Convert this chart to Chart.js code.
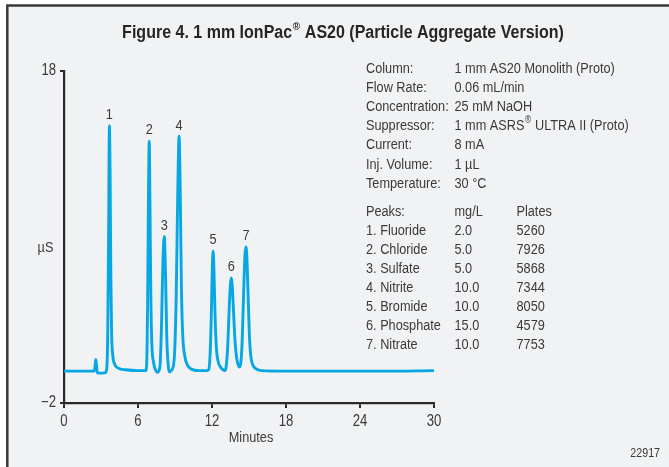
<!DOCTYPE html>
<html>
<head>
<meta charset="utf-8">
<script src="https://cdn.jsdelivr.net/npm/chart.js@4.4.1/dist/chart.umd.min.js"></script>
<style>
  html, body { margin: 0; padding: 0; background: #ffffff; }
  #wrap { width: 669px; height: 467px; position: relative; }
</style>
</head>
<body>
<div id="wrap"><canvas id="c" width="669" height="467"></canvas></div>
<script>
// ---- Data ----
const chartTitle = 'Figure 4. 1 mm IonPac® AS20 (Particle Aggregate Version)';
const xAxisTitle = 'Minutes';
const yAxisTitle = 'µS';
const figureNumber = '22917';

const xTicks = [0, 6, 12, 18, 24, 30];
const yTicks = [-2, 18];

// detector trace: time (min) and conductivity (µS)
const traceMinutes = [
  0.00, 1.00, 2.00, 2.45, 2.52, 2.58, 2.64, 2.70, 3.00, 3.35,
  3.47, 3.55, 3.62, 3.68, 3.74, 3.80, 3.86, 3.95, 4.10, 4.40,
  5.00, 6.00, 6.62, 6.70, 6.78, 6.85, 6.91, 6.97, 7.04, 7.12,
  7.25, 7.45, 7.59, 7.78, 7.90, 8.02, 8.13, 8.24, 8.33, 8.45,
  8.52, 8.75, 8.95, 9.10, 9.22, 9.33, 9.42, 9.52, 9.62, 9.80,
  10.00, 10.30, 11.00, 11.60, 11.73, 11.85, 11.95, 12.02, 12.09, 12.16,
  12.24, 12.35, 12.50, 12.70, 12.90, 13.03, 13.15, 13.28, 13.40, 13.50,
  13.57, 13.64, 13.74, 13.86, 14.00, 14.15, 14.24, 14.35, 14.45, 14.56,
  14.67, 14.76, 14.84, 14.93, 15.03, 15.15, 15.30, 15.60, 16.00, 18.00,
  22.00, 26.00, 30.00
];
const traceMicroS = [
  -0.08, -0.08, -0.08, -0.08, 0.25, 0.62, 0.25, -0.18, -0.20, -0.18,
  0.10, 2.50, 8.50, 14.70, 11.50, 5.50, 2.20, 0.90, 0.35, 0.10,
  0.00, -0.05, -0.05, 0.30, 4.00, 10.50, 13.77, 10.00, 4.50, 1.60,
  0.50, -0.05, -0.15, 0.20, 2.50, 6.50, 8.04, 5.50, 2.00, 0.30,
  -0.12, 0.00, 0.80, 4.50, 10.50, 14.07, 11.00, 5.00, 2.20, 0.80,
  0.30, 0.05, -0.05, -0.05, 0.00, 1.00, 3.50, 6.00, 7.16, 6.00,
  3.50, 1.40, 0.50, 0.15, 0.00, -0.05, 0.20, 1.50, 3.80, 5.20,
  5.53, 5.10, 3.60, 1.80, 0.70, 0.25, 0.17, 0.50, 1.80, 4.50,
  6.90, 7.40, 6.60, 4.40, 2.10, 0.80, 0.30, 0.05, -0.05, -0.08,
  -0.08, -0.08, -0.05
];

// peak labels on the trace
const peakNumbers = ['1', '2', '3', '4', '5', '6', '7'];
const peakMinutes = [3.68, 6.91, 8.13, 9.33, 12.09, 13.57, 14.76];
const peakMicroS = [14.70, 13.77, 8.04, 14.07, 7.16, 5.53, 7.40];

// conditions block
const conditionLabels = ['Column:', 'Flow Rate:', 'Concentration:', 'Suppressor:', 'Current:', 'Inj. Volume:', 'Temperature:'];
const conditionValues = ['1 mm AS20 Monolith (Proto)', '0.06 mL/min', '25 mM NaOH', '1 mm ASRS® ULTRA II (Proto)', '8 mA', '1 µL', '30 °C'];

// peaks table
const peakTableHeader = ['Peaks:', 'mg/L', 'Plates'];
const peakNames = ['1. Fluoride', '2. Chloride', '3. Sulfate', '4. Nitrite', '5. Bromide', '6. Phosphate', '7. Nitrate'];
const peakConcentrations = ['2.0', '5.0', '5.0', '10.0', '10.0', '15.0', '10.0'];
const peakPlates = ['5260', '7926', '5868', '7344', '8050', '4579', '7753'];

// ---- Styling ----
const FONT = "'Liberation Sans', Arial, sans-serif";
const SX = 0.82; // horizontal condensing to mimic the narrow face
const TEXT = '#3a3a3a';
const AXIS = '#2a2a2a';
const LINE = '#07a7e3';

Chart.defaults.font.family = FONT;
Chart.defaults.color = TEXT;

function fontStr(size, weight) { return weight + ' ' + size + 'px ' + FONT; }

// narrow text, returns drawn width
function narrow(ctx, str, x, y, size, weight, align, sx) {
  sx = sx || SX;
  ctx.font = fontStr(size, weight);
  const w = ctx.measureText(str).width * sx;
  let lx = x;
  if (align === 'center') lx = x - w / 2;
  else if (align === 'right') lx = x - w;
  ctx.save();
  ctx.translate(lx, y);
  ctx.scale(sx, 1);
  ctx.textAlign = 'left';
  ctx.fillText(str, 0, 0);
  ctx.restore();
  return w;
}

// draws a string where "®" is set as a superscript
function drawRich(ctx, str, x, y, size, weight, align, sx) {
  sx = sx || SX;
  const parts = str.split('®');
  const supSize = Math.round(size * 0.62);
  let total = 0;
  parts.forEach((p, i) => {
    ctx.font = fontStr(size, weight); total += ctx.measureText(p).width * sx;
    if (i < parts.length - 1) { ctx.font = fontStr(supSize, weight); total += ctx.measureText('®').width * sx + 1; }
  });
  let cx = align === 'center' ? x - total / 2 : x;
  parts.forEach((p, i) => {
    cx += narrow(ctx, p, cx, y, size, weight, 'left', sx);
    if (i < parts.length - 1) {
      cx += narrow(ctx, '®', cx + 0.5, y - size * 0.36, supSize, weight, 'left', sx) + 1;
    }
  });
}

const decorPlugin = {
  id: 'decor',
  beforeDraw(chart) {
    const ctx = chart.ctx;
    ctx.save();
    ctx.fillStyle = '#ffffff';
    ctx.fillRect(0, 0, chart.width, chart.height);
    ctx.fillStyle = '#f1f2f4';
    ctx.fillRect(7, 5.5, chart.width + 20, chart.height + 20);
    ctx.strokeStyle = '#3a3a3a';
    ctx.lineWidth = 2.5;
    ctx.beginPath();
    ctx.moveTo(7.3, chart.height + 10);
    ctx.lineTo(7.3, 5.5);
    ctx.lineTo(chart.width + 10, 5.5);
    ctx.stroke();
    ctx.restore();
  },
  afterDraw(chart) {
    const ctx = chart.ctx;
    const xs = chart.scales.x, ys = chart.scales.y;
    ctx.save();
    ctx.fillStyle = TEXT;
    ctx.textBaseline = 'middle';
    // tick labels, placed from the library's scales
    xs.ticks.forEach(t => {
      narrow(ctx, String(t.value), xs.getPixelForValue(t.value), xs.bottom - 64 + 18.5, 16, 'normal', 'center');
    });
    ys.ticks.forEach(t => {
      const lab = t.value < 0 ? '\u2212' + Math.abs(t.value) : String(t.value);
      narrow(ctx, lab, ys.right - 8, ys.getPixelForValue(t.value), 16, 'normal', 'right');
    });
    // axis titles
    narrow(ctx, xAxisTitle, (xs.left + xs.right) / 2 + 2, 437.5, 15.5, 'normal', 'center');
    narrow(ctx, yAxisTitle, 45.5, 248, 15.5, 'normal', 'center');
    // peak numbers
    peakNumbers.forEach((n, i) => {
      narrow(ctx, n, xs.getPixelForValue(peakMinutes[i]), ys.getPixelForValue(peakMicroS[i]) - 11, 15.5, 'normal', 'center');
    });
    // conditions
    conditionLabels.forEach((lab, i) => {
      const y = 69 + i * 19.05;
      drawRich(ctx, lab, 366, y, 15.5, 'normal', 'left');
      drawRich(ctx, conditionValues[i], 454.5, y, 15.5, 'normal', 'left');
    });
    // peak table
    const rows = [peakTableHeader].concat(peakNames.map((n, i) => [n, peakConcentrations[i], peakPlates[i]]));
    rows.forEach((r, i) => {
      const y = 211.7 + i * 19.0;
      narrow(ctx, r[0], 366, y, 15.5, 'normal', 'left');
      narrow(ctx, r[1], 454.5, y, 15.5, 'normal', 'left');
      narrow(ctx, r[2], 516.5, y, 15.5, 'normal', 'left');
    });
    // figure number
    narrow(ctx, figureNumber, 660, 453, 13, 'normal', 'right');
    // title
    ctx.fillStyle = '#262626';
    drawRich(ctx, chartTitle, 343, 33, 18, 'bold', 'center', 0.89);
    ctx.restore();
  }
};

new Chart(document.getElementById('c'), {
  type: 'line',
  data: {
    datasets: [{
      data: traceMinutes.map((t, i) => ({ x: t, y: traceMicroS[i] })),
      borderColor: LINE,
      borderWidth: 2.9,
      pointRadius: 0,
      fill: false,
      cubicInterpolationMode: 'monotone',
      borderJoinStyle: 'round',
      borderCapStyle: 'round'
    }]
  },
  options: {
    responsive: false,
    animation: false,
    devicePixelRatio: 1,
    layout: { padding: { left: 0, top: 71, right: 235, bottom: 0 } },
    plugins: { legend: { display: false }, tooltip: { enabled: false }, title: { display: false } },
    scales: {
      x: {
        type: 'linear', min: 0, max: 30,
        afterFit(s) { s.height = 64; },
        afterBuildTicks(s) { s.ticks = xTicks.map(v => ({ value: v })); },
        grid: { drawOnChartArea: false, drawTicks: true, tickLength: 5, color: AXIS, lineWidth: 2 },
        border: { display: true, color: AXIS, width: 2.2 },
        ticks: { display: false, autoSkip: false }
      },
      y: {
        type: 'linear', min: -2, max: 18,
        afterFit(s) { s.width = 64; },
        afterBuildTicks(s) { s.ticks = yTicks.map(v => ({ value: v })); },
        grid: { drawOnChartArea: false, drawTicks: true, tickLength: 4, color: AXIS, lineWidth: 2 },
        border: { display: true, color: AXIS, width: 2.2 },
        ticks: { display: false }
      }
    }
  },
  plugins: [decorPlugin]
});
</script>
</body>
</html>
